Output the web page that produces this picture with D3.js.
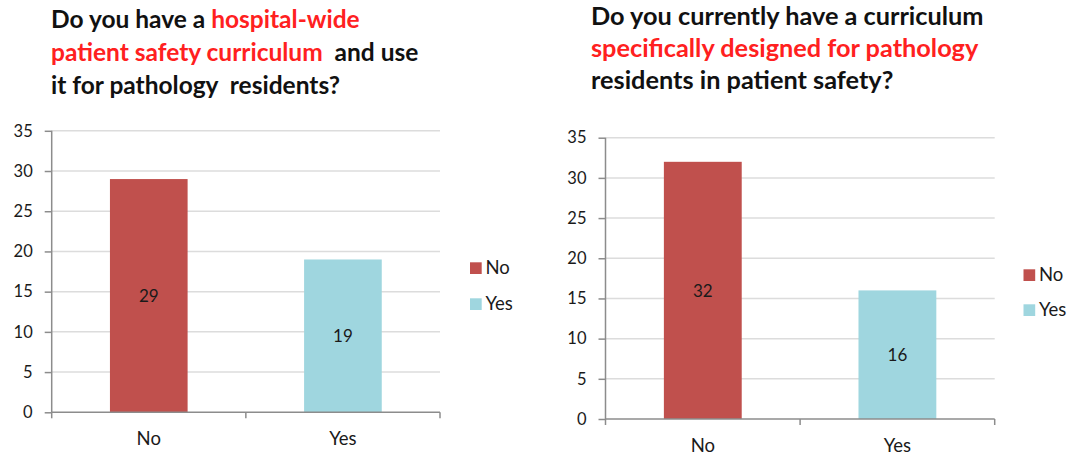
<!DOCTYPE html>
<html>
<head>
<meta charset="utf-8">
<script src="https://cdn.jsdelivr.net/npm/d3@7/dist/d3.min.js"></script>
<style>
  html, body { margin: 0; padding: 0; background: #fff; }
  svg { display: block; }
</style>
</head>
<body>
<svg id="chart" width="1072" height="456"></svg>
<script>
// ---- data ----
const categories = ["No", "Yes"];
const leftValues = [29, 19];
const rightValues = [32, 16];
const yTicks = [0, 5, 10, 15, 20, 25, 30, 35];
const barColors = ["#C0504D", "#9FD6DF"];
// title pieces: [text, isRed]
const leftTitle = [
  [["Do you have a ", false], ["hospital-wide", true]],
  [["patient safety curriculum", true], ["  and use", false]],
  [["it for pathology  residents?", false]]
];
const rightTitle = [
  [["Do you currently have a curriculum", false]],
  [["specifically designed for pathology", true]],
  [["residents in patient safety?", false]]
];

const svg = d3.select("#chart");
const FONT = "Lato, 'Open Sans', sans-serif";

function drawTitle(lines, x, ys, size) {
  const t = svg.append("text")
    .attr("font-family", FONT)
    .attr("font-weight", "bold")
    .attr("font-size", size)
    .attr("fill", "#000")
    .style("white-space", "pre");
  lines.forEach((line, i) => {
    line.forEach(([txt, red], j) => {
      const ts = t.append("tspan").text(txt)
        .attr("fill", red ? "#FF2020" : "#111");
      if (j === 0) ts.attr("x", x).attr("y", ys[i]);
    });
  });
}

function drawChart(values, box) {
  const x = d3.scaleBand().domain(categories)
    .range([box.x0, box.x1]).paddingInner(0.6).paddingOuter(0.3);
  const y = d3.scaleLinear().domain([0, 35]).range([box.y0, box.y1]);
  const g = svg.append("g");

  // gridlines
  g.selectAll("line.grid").data(yTicks.filter(d => d > 0)).join("line")
    .attr("x1", box.x0).attr("x2", box.x1)
    .attr("y1", d => y(d)).attr("y2", d => y(d))
    .attr("stroke", "#DCDCDC").attr("stroke-width", 1.5);

  // bars
  g.selectAll("rect.bar").data(values).join("rect")
    .attr("x", (d, i) => x(categories[i]))
    .attr("width", x.bandwidth())
    .attr("y", d => y(d))
    .attr("height", d => y(0) - y(d))
    .attr("fill", (d, i) => barColors[i]);

  // data labels
  g.selectAll("text.val").data(values).join("text")
    .attr("x", (d, i) => x(categories[i]) + x.bandwidth() / 2)
    .attr("y", d => (y(d) + y(0)) / 2)
    .attr("dy", "0.36em")
    .attr("text-anchor", "middle")
    .attr("font-family", FONT).attr("font-size", 17).attr("fill", "#1a1a1a")
    .text(d => d);

  // y axis
  const yAxis = g.append("g").attr("transform", `translate(${box.x0},0)`)
    .call(d3.axisLeft(y).tickValues(yTicks).tickSize(7).tickPadding(12));
  yAxis.select(".domain").attr("stroke", "#8C8C8C").attr("stroke-width", 1.5)
    .attr("d", `M0,${box.y0}V${box.y1}`);
  yAxis.selectAll(".tick line").attr("stroke", "#8C8C8C").attr("stroke-width", 1.5);
  yAxis.selectAll(".tick text").attr("font-family", FONT).attr("font-size", 16.5).attr("fill", "#1a1a1a");

  // x axis
  const xAxis = g.append("g").attr("transform", `translate(0,${box.y0})`)
    .call(d3.axisBottom(x).tickSize(0).tickPadding(20));
  xAxis.select(".domain").attr("stroke", "#8C8C8C").attr("stroke-width", 1.5)
    .attr("d", `M${box.x0},0H${box.x1}`);
  xAxis.selectAll(".tick text").attr("font-family", FONT).attr("font-size", 18.5).attr("fill", "#1a1a1a");
  // category separator ticks
  const sepPos = d3.range(categories.length + 1).map(i => box.x0 + i * (box.x1 - box.x0) / categories.length);
  xAxis.selectAll("line.sep").data(sepPos).join("line")
    .attr("x1", d => d).attr("x2", d => d).attr("y1", 0).attr("y2", 6)
    .attr("stroke", "#8C8C8C").attr("stroke-width", 1.5);

  // legend
  const lg = svg.append("g");
  categories.forEach((c, i) => {
    lg.append("rect").attr("x", box.lx).attr("y", box.ly + i * box.lstep)
      .attr("width", 11.7).attr("height", 11.7).attr("fill", barColors[i]);
    lg.append("text").attr("x", box.lx + 15.5).attr("y", box.ly + i * box.lstep + 12)
      .attr("font-family", FONT).attr("font-size", 18.5).attr("fill", "#1a1a1a").text(c);
  });
}

drawTitle(leftTitle, 51, [28, 61, 94], 24.5);
drawTitle(rightTitle, 591, [25, 57, 89], 25.3);
drawChart(leftValues, { x0: 51.7, x1: 440, y0: 412.3, y1: 130.8, lx: 470, ly: 262.3, lstep: 36 });
drawChart(rightValues, { x0: 605.5, x1: 994.7, y0: 419, y1: 137.7, lx: 1023.5, ly: 269.3, lstep: 35 });
</script>
</body>
</html>
